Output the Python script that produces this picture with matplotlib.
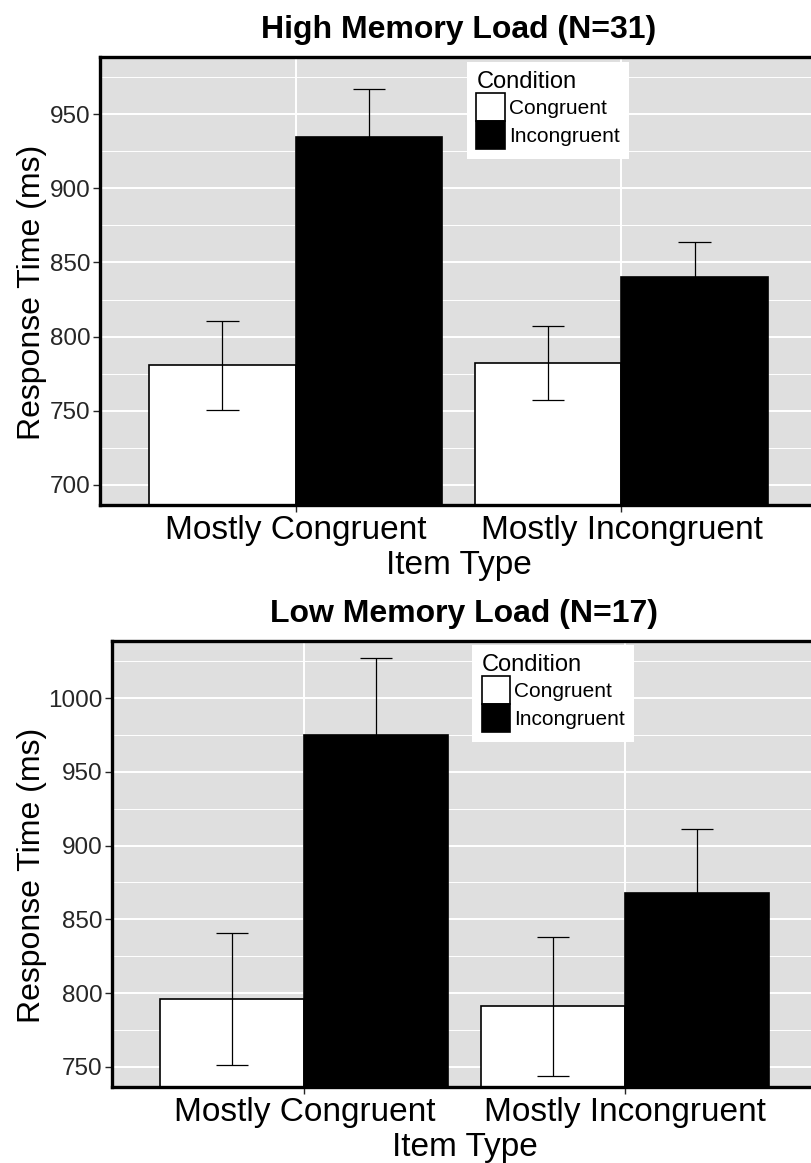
import matplotlib
matplotlib.use("Agg")
import matplotlib.pyplot as plt
from matplotlib.patches import Patch
import numpy as np

plt.rcParams['font.family'] = ['Liberation Sans', 'DejaVu Sans']

item_types = ['Mostly Congruent', 'Mostly Incongruent']
conditions = ['Congruent', 'Incongruent']

high_title = 'High Memory Load (N=31)'
high_congruent = [780.5, 782.0]
high_congruent_err = [30.0, 25.0]
high_incongruent = [935.0, 840.5]
high_incongruent_err = [32.0, 23.5]
high_ticks = [700, 750, 800, 850, 900, 950]
high_ylim = (686.25, 988.75)

low_title = 'Low Memory Load (N=17)'
low_congruent = [796.0, 791.0]
low_congruent_err = [45.0, 47.0]
low_incongruent = [975.0, 867.5]
low_incongruent_err = [52.5, 44.0]
low_ticks = [750, 800, 850, 900, 950, 1000]
low_ylim = (736.25, 1038.75)

W, H = 812, 1163
fig = plt.figure(figsize=(W / 100, H / 100), dpi=100)

BG = '#DFDFDF'
bar_w = 0.45


def panel(rect_px, title, cong, cong_err, incong, incong_err, ticks, ylim, ylab_x, legend_xy):
    l, t, r, b = rect_px
    ax = fig.add_axes([l / W, 1 - b / H, (r - l) / W, (b - t) / H])
    ax.set_facecolor(BG)
    x = np.arange(1, len(item_types) + 1)
    ax.set_yticks(ticks)
    minor = [v + 25 for v in ticks] + [ticks[0] - 25]
    ax.set_yticks(minor, minor=True)
    ax.set_xticks(x)
    ax.set_xlim(0.4, 2.6)
    ax.set_ylim(*ylim)
    ax.grid(True, which='major', axis='both', color='white', linewidth=1.4, zorder=0)
    ax.grid(True, which='minor', axis='y', color='white', linewidth=0.7, zorder=0)
    ax.set_axisbelow(True)
    xc = x - bar_w / 2
    xi = x + bar_w / 2
    ax.bar(xc, cong, width=bar_w, color='white', edgecolor='black', linewidth=1.2, zorder=2)
    ax.bar(xi, incong, width=bar_w, color='black', edgecolor='black', linewidth=1.2, zorder=2)
    for xs, ys, es in [(xc, cong, cong_err), (xi, incong, incong_err)]:
        ys = np.array(ys); es = np.array(es)
        ax.vlines(xs, ys - es, ys + es, color='black', linewidth=0.9, zorder=3)
        ax.hlines(ys + es, xs - 0.05, xs + 0.05, color='black', linewidth=0.9, zorder=3)
        ax.hlines(ys - es, xs - 0.05, xs + 0.05, color='black', linewidth=0.9, zorder=3)
    ax.set_xticklabels(item_types, fontsize=24, color='black')
    ax.tick_params(axis='y', which='major', labelsize=17.5, labelcolor='#262626', length=5,
                   width=1.0, color='#262626', pad=2)
    ax.tick_params(axis='y', which='minor', length=0)
    ax.tick_params(axis='x', which='major', length=5, width=1.0, color='#262626', pad=2)
    for s in ax.spines.values():
        s.set_linewidth(2.4)
        s.set_color('black')
    ax.set_xlabel('Item Type', fontsize=24, labelpad=3)
    ax.set_ylabel('Response Time (ms)', fontsize=23)
    ax.yaxis.set_label_coords(ylab_x, 0.475)
    ax.text(0.5, 1 + 27 / (b - t), title, transform=ax.transAxes, ha='center', va='center',
            fontsize=23, fontweight='bold')
    handles = [Patch(facecolor='white', edgecolor='black', linewidth=1.2),
               Patch(facecolor='black', edgecolor='black', linewidth=1.2)]
    leg = ax.legend(handles, conditions, title='Condition', loc='upper left',
                    bbox_to_anchor=legend_xy, fontsize=15, title_fontsize=17,
                    handlelength=1.35, handleheight=1.69, handletextpad=0.2,
                    labelspacing=0.0, borderpad=0.45, borderaxespad=0,
                    frameon=True, fancybox=False, framealpha=1, alignment='left')
    leg.get_frame().set_facecolor('white')
    leg.get_frame().set_edgecolor('none')
    return ax


panel((100, 57, 817, 505), high_title, high_congruent, high_congruent_err,
      high_incongruent, high_incongruent_err, high_ticks, high_ylim, -0.074, (0.512, 0.989))
panel((112, 641, 817, 1087), low_title, low_congruent, low_congruent_err,
      low_incongruent, low_incongruent_err, low_ticks, low_ylim, -0.092, (0.511, 0.991))

fig.savefig('out.png', dpi=100)
